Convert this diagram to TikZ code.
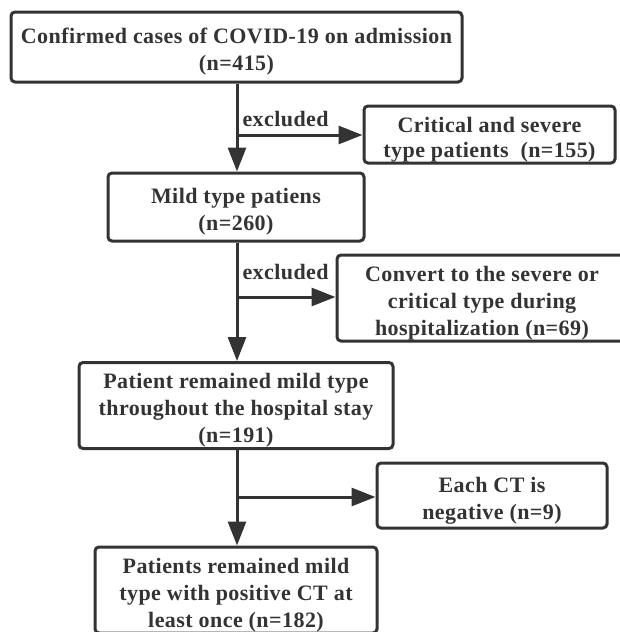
\documentclass[tikz,border=0pt]{standalone}
\usepackage{fontspec}
\setmainfont{Liberation Serif}[LetterSpace=2]
\usetikzlibrary{arrows.meta}
\definecolor{ink}{HTML}{333333}
% struts that push the lines down inside a box
\newcommand{\tp}{\rule{0pt}{26pt}}
\newcommand{\bt}{\rule[-6pt]{0pt}{6pt}}

\begin{document}
\begin{tikzpicture}[x=1pt,y=-1pt,>={Triangle[length=24pt,width=18pt]},line width=3pt,color=ink,
  box/.style={draw,rounded corners=4pt,inner sep=0pt,align=center,font=\fontsize{22}{27}\selectfont\bfseries},
  note/.style={inner sep=0pt,font=\fontsize{22}{27}\selectfont\bfseries}]
  \useasboundingbox (0,0) rectangle (620,632);
  \clip (0,0) rectangle (620,632);

  % main column
  \node[box,minimum width=451pt,minimum height=70pt] (admit) at (236.5,47) {\tp Confirmed cases of COVID-19 on admission\\(n=415)\bt};
  \node[box,minimum width=256pt,minimum height=68pt] (mild) at (236,207) {\tp Mild type patiens\\(n=260)\bt};
  \node[box,minimum width=314pt,minimum height=83pt] (remain) at (236,405.5) {\tp Patient remained mild type\\throughout the hospital stay\\(n=191)\bt};
  \node[box,minimum width=282pt,minimum height=80pt] (final) at (236,590) {\tp Patients remained mild\\type with positive CT at\\least once (n=182)\bt};

  % excluded side boxes
  \node[box,minimum width=251pt,minimum height=57pt,font=\fontsize{22}{25}\selectfont\bfseries] (severe) at (489.5,134.5) {\tp Critical and severe\\type patients~ (n=155)\bt};
  \node[box,minimum width=290pt,minimum height=84pt] (convert) at (482,298) {\tp Convert to the severe or\\critical type during\\hospitalization (n=69)\bt};
  \node[box,minimum width=230pt,minimum height=65pt] (negct) at (492,495.5) {\tp Each CT is\\negative (n=9)\bt};

  \coordinate (j1) at (237,135);
  \coordinate (j2) at (237,297);
  \coordinate (j3) at (237,497);

  \draw[->] (admit.south -| j1) -- (mild.north -| j1);
  \draw[->] (mild.south -| j1) -- (remain.north -| j1);
  \draw[->] (remain.south -| j1) -- (final.north -| j1);

  \draw[->] (j1) -- (j1 -| severe.west);
  \draw[->] (j2) -- (j2 -| convert.west);
  \draw[->] (j3) -- (j3 -| negct.west);

  \node[note,anchor=base west] (x1) at (241,126) {excluded};
  \node[note,anchor=base west] (x2) at (241,279) {excluded};
\end{tikzpicture}
\end{document}
